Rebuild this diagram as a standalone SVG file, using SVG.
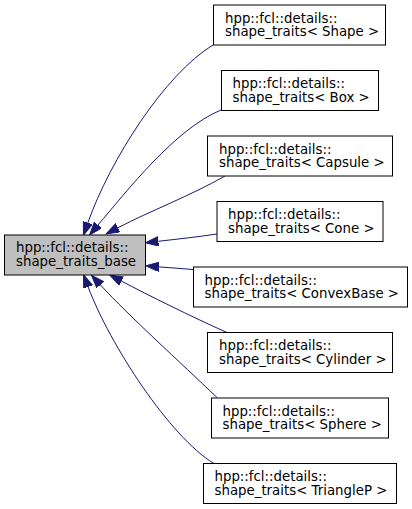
<svg xmlns="http://www.w3.org/2000/svg" width="412" height="509" viewBox="0 0 412 509">
<style>
  .node rect { fill: #ffffff; stroke: #000000; stroke-width: 1; }
  .node.base rect { fill: #bfbfbf; }
  .node text { font-family: "DejaVu Sans", sans-serif; font-size: 13.33px; fill: #000000; }
  .edges path { fill: none; stroke: #191970; stroke-width: 1; marker-end: url(#arrow); }
</style>
<defs>
  <marker id="arrow" markerUnits="userSpaceOnUse" markerWidth="14" markerHeight="10" refX="0" refY="4.7" orient="auto" viewBox="0 0 14 10">
    <path d="M0,0 L13,4.7 L0,9.4 Z" fill="#191970" stroke="#191970" stroke-width="1"/>
  </marker>
</defs>
<rect width="412" height="509" fill="#ffffff"/>
<g class="edges" id="edges">
  <path d="M213,45 C165,74 110,160 87.8,222.9"/>
  <path d="M221,110 C175,129 127,191 98,225"/>
  <path d="M225,176 C190,196 150,211 117.8,227.8"/>
  <path d="M217,234 C197,237 178,239 158.3,241.3"/>
  <path d="M193,269.5 C182,268.5 170,267.8 158.9,266.9"/>
  <path d="M227,332.5 C190,316 150,296 121.4,281.1"/>
  <path d="M217,397.5 C180,362 130,317 100.3,284.8"/>
  <path d="M214,463.5 C170,437 110,345 88.1,286.9"/>
</g>
<g class="node base" id="node-base">
  <rect x="4.5" y="235" width="141" height="40"/>
  <text x="16" y="252">hpp::fcl::details::</text>
  <text x="16" y="265.5">shape_traits_base</text>
</g>
<g class="node" id="node-shape">
  <rect x="213.5" y="5" width="172" height="40"/>
  <text x="225" y="22.5">hpp::fcl::details::</text>
  <text x="225" y="36">shape_traits&lt; Shape &gt;</text>
</g>
<g class="node" id="node-box">
  <rect x="221.5" y="70.5" width="157" height="40"/>
  <text x="232.5" y="88">hpp::fcl::details::</text>
  <text x="232.5" y="101.5">shape_traits&lt; Box &gt;</text>
</g>
<g class="node" id="node-capsule">
  <rect x="207.5" y="136" width="185" height="40"/>
  <text x="219" y="153.5">hpp::fcl::details::</text>
  <text x="219" y="167">shape_traits&lt; Capsule &gt;</text>
</g>
<g class="node" id="node-cone">
  <rect x="217" y="201.5" width="166" height="40"/>
  <text x="228" y="219">hpp::fcl::details::</text>
  <text x="228" y="232.5">shape_traits&lt; Cone &gt;</text>
</g>
<g class="node" id="node-convexbase">
  <rect x="193.5" y="267" width="214" height="40"/>
  <text x="204.5" y="284.5">hpp::fcl::details::</text>
  <text x="204.5" y="298">shape_traits&lt; ConvexBase &gt;</text>
</g>
<g class="node" id="node-cylinder">
  <rect x="207.5" y="332.5" width="185" height="40"/>
  <text x="219" y="350">hpp::fcl::details::</text>
  <text x="219" y="363.5">shape_traits&lt; Cylinder &gt;</text>
</g>
<g class="node" id="node-sphere">
  <rect x="211.5" y="398" width="177" height="40"/>
  <text x="222.5" y="415.5">hpp::fcl::details::</text>
  <text x="222.5" y="429">shape_traits&lt; Sphere &gt;</text>
</g>
<g class="node" id="node-trianglep">
  <rect x="203.5" y="463.5" width="193" height="40"/>
  <text x="214.5" y="481">hpp::fcl::details::</text>
  <text x="214.5" y="494.5">shape_traits&lt; TriangleP &gt;</text>
</g>
</svg>
